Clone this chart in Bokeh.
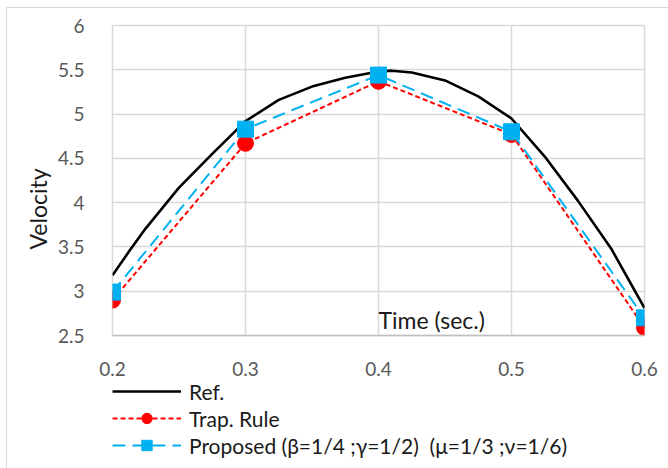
from bokeh.plotting import figure
from bokeh.layouts import column
from bokeh.models import (FixedTicker, NumeralTickFormatter, Legend, LegendItem,
                          Label, ColumnDataSource, Title)
from bokeh.embed import file_html
from bokeh.resources import INLINE

# ---- data ----
x_ticks = [0.2, 0.3, 0.4, 0.5, 0.6]
y_ticks = [2.5, 3, 3.5, 4, 4.5, 5, 5.5, 6]

t = [0.2, 0.3, 0.4, 0.5, 0.6]
trap = [2.90, 4.67, 5.37, 4.77, 2.59]
proposed = [2.99, 4.83, 5.44, 4.80, 2.70]

ref_t = [0.2, 0.2125, 0.225, 0.25, 0.275, 0.3, 0.325, 0.35, 0.375, 0.4,
         0.41, 0.425, 0.45, 0.475, 0.5, 0.525, 0.55, 0.575, 0.6]
ref_v = [3.18, 3.45, 3.71, 4.17, 4.55, 4.92, 5.16, 5.31, 5.41, 5.48,
         5.49, 5.47, 5.38, 5.20, 4.95, 4.52, 4.02, 3.48, 2.81]

series_names = ["Ref.", "Trap. Rule",
                "Proposed (\u03b2=1/4 ;\u03b3=1/2)  (\u03bc=1/3 ;\u03bd=1/6)"]
x_title = "Time (sec.)"
y_title = "Velocity"

FONT = "Lato"
REF_STYLE = dict(line_color="black", line_width=2.6)
TRAP_LINE = dict(line_color="#ff0000", line_width=2, line_dash="5 3")
TRAP_MARK = dict(marker="circle", size=16, fill_color="#ff0000", line_color="#ff0000")
PROP_LINE = dict(line_color="#00b0f0", line_width=2, line_dash="13 7")
PROP_MARK = dict(marker="square", size=16, fill_color="#00b0f0", line_color="#00b0f0")


def draw_series(fig):
    r_ref = fig.line(ref_t, ref_v, line_join="round", **REF_STYLE)
    s_trap = ColumnDataSource(dict(t=t, v=trap))
    r_tl = fig.line("t", "v", source=s_trap, **TRAP_LINE)
    r_tm = fig.scatter("t", "v", source=s_trap, **TRAP_MARK)
    s_prop = ColumnDataSource(dict(t=t, v=proposed))
    r_pl = fig.line("t", "v", source=s_prop, **PROP_LINE)
    r_pm = fig.scatter("t", "v", source=s_prop, **PROP_MARK)
    return r_ref, (r_tl, r_tm), (r_pl, r_pm)


# ---------------- main plot ----------------
p = figure(width=662, height=373, x_range=(0.2, 0.6), y_range=(2.5, 6),
           output_backend="svg", toolbar_location=None,
           min_border_left=105, min_border_right=25, min_border_top=17,
           min_border_bottom=46)
p.margin = (7, 0, 0, 6)
p.styles = {"border-top": "1px solid #d9d9d9", "border-left": "1px solid #d9d9d9"}

p.outline_line_color = "#d9d9d9"
p.outline_line_width = 1.5
p.background_fill_color = "white"
p.border_fill_color = "white"

p.xaxis.ticker = FixedTicker(ticks=x_ticks)
p.yaxis.ticker = FixedTicker(ticks=y_ticks)
p.xaxis.formatter = NumeralTickFormatter(format="0.0")
p.yaxis.formatter = NumeralTickFormatter(format="0.[0]")
for ax in (p.xaxis, p.yaxis):
    ax.major_tick_line_color = None
    ax.minor_tick_line_color = None
    ax.major_label_text_font = FONT
    ax.major_label_text_font_size = "19px"
    ax.major_label_text_color = "#595959"
p.yaxis.axis_line_color = None
p.xaxis.axis_line_color = "#bfbfbf"
p.xaxis.axis_line_width = 1.5
p.xaxis.major_label_standoff = 20
p.yaxis.major_label_standoff = 22

p.xgrid.grid_line_color = "#d9d9d9"
p.ygrid.grid_line_color = "#d9d9d9"
p.xgrid.grid_line_width = 1.5
p.ygrid.grid_line_width = 1.5

draw_series(p)

p.add_layout(Label(x=0.44, y=2.68, text=x_title, text_align="center",
                   text_baseline="middle", text_font=FONT,
                   text_font_size="23px", text_color="#1a1a1a"))
p.add_layout(Title(text=y_title, align="left", offset=86,
                   text_font=FONT, text_font_size="23px",
                   text_font_style="normal", text_color="#1a1a1a",
                   standoff=6), "left")

# ---------------- legend strip (same series, ranges kept off-view) ----------------
lg = figure(width=662, height=90, x_range=(10, 11), y_range=(10, 11),
            output_backend="svg", toolbar_location=None,
            x_axis_type=None, y_axis_type=None,
            min_border_left=100, min_border_right=0, min_border_top=0,
            min_border_bottom=0)
lg.margin = (-2, 0, 0, 6)
lg.styles = {"border-left": "1px solid #d9d9d9"}
lg.outline_line_color = None
lg.background_fill_alpha = 0
lg.border_fill_alpha = 0
lg.xgrid.visible = False
lg.ygrid.visible = False

g_ref, g_trap, g_prop = draw_series(lg)

legend = Legend(items=[
    LegendItem(label=series_names[0], renderers=[g_ref]),
    LegendItem(label=series_names[1], renderers=list(g_trap)),
    LegendItem(label=series_names[2], renderers=list(g_prop)),
], location="top_left", orientation="vertical")
legend.padding = 0
legend.margin = 0
legend.spacing = 1
legend.glyph_height = 26
legend.glyph_width = 69
legend.label_standoff = 8
legend.label_text_font = FONT
legend.label_text_font_size = "21px"
legend.label_text_color = "#1a1a1a"
legend.border_line_color = None
legend.background_fill_alpha = 0
lg.add_layout(legend)

layout = column(p, lg, spacing=0)
open("out.html", "w").write(file_html(layout, INLINE))
